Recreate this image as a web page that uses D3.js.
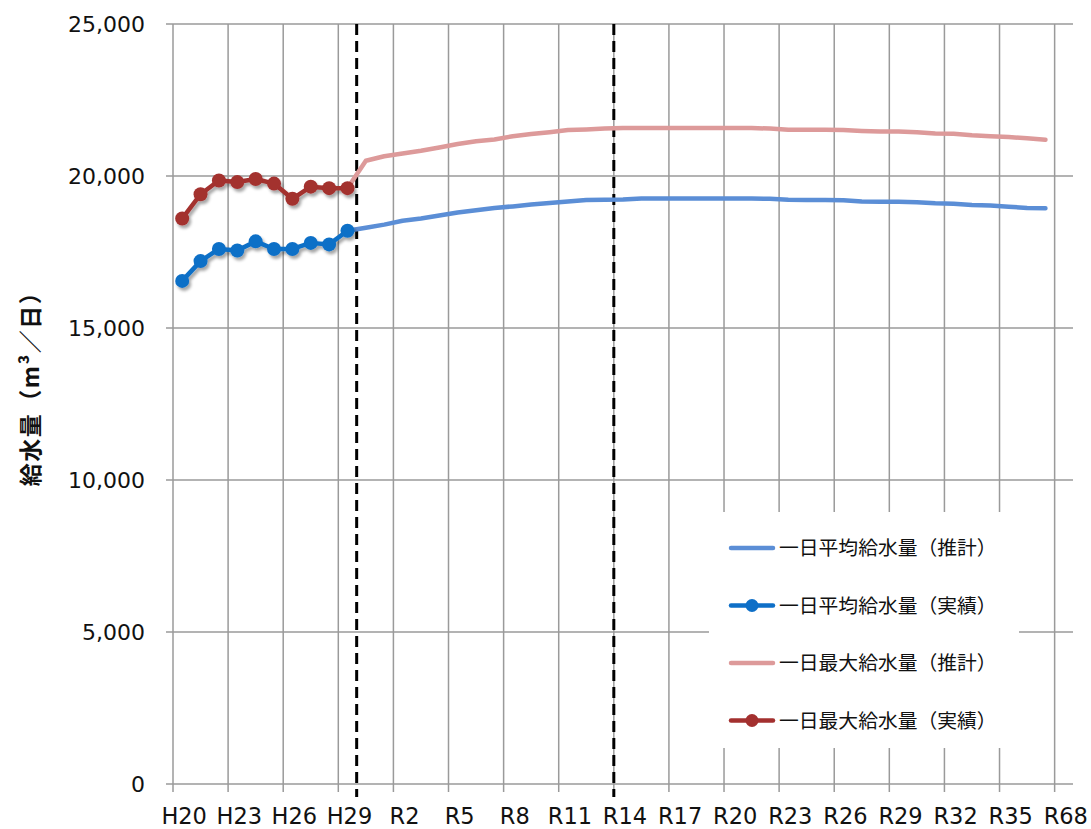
<!DOCTYPE html>
<html>
<head>
<meta charset="utf-8">
<script src="https://cdn.jsdelivr.net/npm/d3@7"></script>
<style>
  body { margin: 0; background: #fff; }
  text { font-family: "DejaVu Sans", Verdana, sans-serif; fill: #111; }
  .jp { font-family: "Noto Sans CJK JP", sans-serif; }
</style>
</head>
<body>
<div id="chart-container"></div>
<script>
// Fiscal years on the category axis (H = Heisei, R = Reiwa)
const categories = ["H20","H21","H22","H23","H24","H25","H26","H27","H28","H29","H30",
  "R1","R2","R3","R4","R5","R6","R7","R8","R9","R10","R11","R12","R13","R14","R15",
  "R16","R17","R18","R19","R20","R21","R22","R23","R24","R25","R26","R27","R28","R29",
  "R30","R31","R32","R33","R34","R35","R36","R37","R38"];

// Labels shown under every third category (the last one reads "R68" in the original)
const tickLabels = ["H20","H23","H26","H29","R2","R5","R8","R11","R14","R17","R20",
  "R23","R26","R29","R32","R35","R68"];

const yTicks = [0, 5000, 10000, 15000, 20000, 25000];

// Actual values H20..H29
const avgActual = [16550, 17200, 17600, 17550, 17850, 17600, 17600, 17800, 17750, 18200];
const maxActual = [18600, 19400, 19850, 19800, 19900, 19750, 19250, 19650, 19600, 19600];

// Estimates H29..R37
const avgEstimate = [18200, 18300, 18400, 18530, 18600, 18700, 18800, 18870, 18950, 19000,
  19060, 19110, 19160, 19210, 19220, 19230, 19260, 19260, 19260, 19260, 19260, 19260,
  19260, 19250, 19220, 19210, 19210, 19200, 19160, 19150, 19150, 19140, 19100, 19090,
  19050, 19030, 18990, 18950, 18940];
const maxEstimate = [19600, 20500, 20650, 20740, 20830, 20940, 21050, 21140, 21200, 21310,
  21380, 21440, 21510, 21530, 21560, 21580, 21580, 21580, 21580, 21580, 21580, 21580,
  21580, 21560, 21520, 21520, 21520, 21510, 21480, 21460, 21460, 21440, 21400, 21390,
  21340, 21310, 21280, 21240, 21190];

// Dashed separators sit just before these years
const dividers = ["H30", "R14"];

const legendNames = ["一日平均給水量（推計）", "一日平均給水量（実績）",
  "一日最大給水量（推計）", "一日最大給水量（実績）"];

const W = 1091, H = 829;
const margin = { left: 173, right: 1073, top: 24, bottom: 784 };

const svg = d3.select("#chart-container").append("svg")
    .attr("width", W)
    .attr("height", H);

// soft shadow like the Excel original
const defs = svg.append("defs");
defs.append("filter").attr("id", "shadow")
    .attr("x", "-10%").attr("y", "-10%").attr("width", "130%").attr("height", "130%")
  .append("feDropShadow")
    .attr("dx", 2).attr("dy", 3).attr("stdDeviation", 1.6)
    .attr("flood-color", "#000").attr("flood-opacity", 0.35);

const x = d3.scaleBand().domain(categories).range([margin.left, margin.right]).padding(0);
const bw = x.bandwidth();
const cx = c => x(c) + bw / 2;

const y = d3.scaleLinear().domain([0, 25000]).range([margin.bottom, margin.top]);

const gridColor = "#9a9a9a";
const tickCats = categories.filter((c, i) => i % 3 === 0);

// horizontal gridlines + y ticks
svg.append("g").selectAll("line")
  .data(yTicks)
  .enter().append("line")
    .attr("x1", margin.left - 7).attr("x2", margin.right)
    .attr("y1", d => y(d)).attr("y2", d => y(d))
    .attr("stroke", gridColor).attr("stroke-width", 1.5);

// vertical gridlines at every third category boundary
svg.append("g").selectAll("line")
  .data(tickCats)
  .enter().append("line")
    .attr("x1", d => x(d)).attr("x2", d => x(d))
    .attr("y1", margin.top).attr("y2", margin.bottom + 8)
    .attr("stroke", gridColor).attr("stroke-width", 1.5);

// y tick labels
svg.append("g").selectAll("text")
  .data(yTicks)
  .enter().append("text")
    .attr("x", margin.left - 28)
    .attr("y", d => y(d))
    .attr("dy", "0.36em")
    .attr("text-anchor", "end")
    .style("font-size", "22px")
    .text(d => d3.format(",")(d));

// x tick labels
svg.append("g").selectAll("text")
  .data(tickCats)
  .enter().append("text")
    .attr("x", d => cx(d) + 2)
    .attr("y", 824)
    .attr("text-anchor", "middle")
    .style("font-size", "22.5px")
    .text((d, i) => tickLabels[i]);

// y axis title
svg.append("text")
    .attr("class", "jp")
    .attr("transform", "translate(39,383) rotate(-90)")
    .attr("text-anchor", "middle")
    .style("font-size", "23px")
    .style("font-weight", "bold")
    .style("letter-spacing", "1.5px")
    .text("給水量（m³／日）");

// dashed separators
svg.append("g").selectAll("line")
  .data(dividers)
  .enter().append("line")
    .attr("x1", d => x(d)).attr("x2", d => x(d))
    .attr("y1", margin.top).attr("y2", margin.bottom + 13)
    .attr("stroke", "#000").attr("stroke-width", 3)
    .attr("stroke-dasharray", "11,6");

const line = d3.line().x(d => cx(d.c)).y(d => y(d.v));
const estCats = categories.slice(9, 9 + avgEstimate.length);
const actCats = categories.slice(0, avgActual.length);

const series = [
  { name: legendNames[0], cats: estCats, values: avgEstimate, color: "#5b8ed6", marker: false },
  { name: legendNames[1], cats: actCats, values: avgActual, color: "#0e6fc7", marker: true },
  { name: legendNames[2], cats: estCats, values: maxEstimate, color: "#dd9a9a", marker: false },
  { name: legendNames[3], cats: actCats, values: maxActual, color: "#a3302f", marker: true }
];

// draw estimates first, then actuals on top
[0, 2, 1, 3].forEach(k => {
  const s = series[k];
  const pts = s.cats.map((c, i) => ({ c: c, v: s.values[i] }));
  const g = svg.append("g");
  if (s.marker) g.attr("filter", "url(#shadow)");
  g.append("path")
      .datum(pts)
      .attr("d", line)
      .attr("fill", "none")
      .attr("stroke", s.color)
      .attr("stroke-width", 4.5)
      .attr("stroke-linejoin", "round")
      .attr("stroke-linecap", "round");
  if (s.marker) {
    g.selectAll("circle")
      .data(pts)
      .enter().append("circle")
        .attr("cx", d => cx(d.c))
        .attr("cy", d => y(d.v))
        .attr("r", 7)
        .attr("fill", s.color);
  }
});

// legend
const legend = svg.append("g").attr("class", "legend");
legend.append("rect")
    .attr("x", 709).attr("y", 512)
    .attr("width", 310).attr("height", 236)
    .attr("fill", "#fff");

series.forEach((s, i) => {
  const ly = 548 + i * 57.5;
  legend.append("line")
      .attr("x1", 731).attr("x2", 773)
      .attr("y1", ly).attr("y2", ly)
      .attr("stroke", s.color).attr("stroke-width", 4.5)
      .attr("stroke-linecap", "round");
  if (s.marker) {
    legend.append("circle")
        .attr("cx", 752).attr("cy", ly).attr("r", 6.5)
        .attr("fill", s.color);
  }
  legend.append("text")
      .attr("class", "jp")
      .attr("x", 779).attr("y", ly)
      .attr("dy", "0.36em")
      .style("font-size", "19.8px")
      .text(s.name);
});
</script>
</body>
</html>
